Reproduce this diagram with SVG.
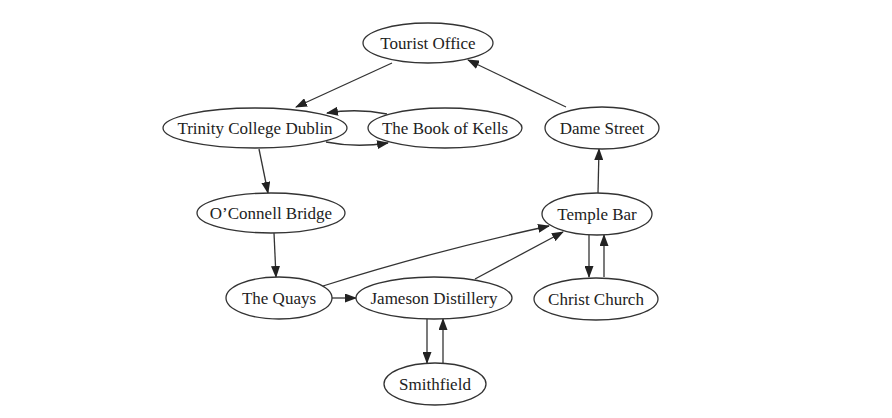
<svg xmlns="http://www.w3.org/2000/svg" width="892" height="418" viewBox="0 0 892 418">
<style>
.n ellipse{fill:#fff;stroke:#333;stroke-width:1.3}
.n text{font-family:"Liberation Serif","Times New Roman",serif;font-size:17px;fill:#222;text-anchor:middle;dominant-baseline:central}
.e path{fill:none;stroke:#333;stroke-width:1.3}
</style>
<defs>
<marker id="a" markerWidth="12" markerHeight="9" refX="11" refY="4.5" orient="auto" markerUnits="userSpaceOnUse">
<path d="M0,0 L12,4.5 L0,9 Z" fill="#222"/>
</marker>
</defs>
<rect width="892" height="418" fill="#fff"/>
<g class="e">
<path d="M392,63 L296,107" marker-end="url(#a)"/>
<path d="M566,107 L468,60" marker-end="url(#a)"/>
<path d="M326,142 Q356,148 388,143" marker-end="url(#a)"/>
<path d="M387,114 Q357,108 327,113" marker-end="url(#a)"/>
<path d="M259,149 L268,193" marker-end="url(#a)"/>
<path d="M274,233 L276,277" marker-end="url(#a)"/>
<path d="M332,298 L356,298" marker-end="url(#a)"/>
<path d="M323,286 Q430,252 549,226" marker-end="url(#a)"/>
<path d="M475,279 L563,232" marker-end="url(#a)"/>
<path d="M589,235 L589,277" marker-end="url(#a)"/>
<path d="M604,277 L604,235" marker-end="url(#a)"/>
<path d="M598,193 L599,149" marker-end="url(#a)"/>
<path d="M427,319 L427,363" marker-end="url(#a)"/>
<path d="M443,363 L443,319" marker-end="url(#a)"/>
</g>
<g class="n" id="tourist"><ellipse cx="428" cy="43" rx="65" ry="20"/><text x="428" y="43">Tourist Office</text></g>
<g class="n" id="trinity"><ellipse cx="255" cy="128" rx="92" ry="20"/><text x="255" y="128">Trinity College Dublin</text></g>
<g class="n" id="kells"><ellipse cx="445" cy="128" rx="77" ry="20"/><text x="445" y="128">The Book of Kells</text></g>
<g class="n" id="dame"><ellipse cx="602" cy="128" rx="57" ry="21"/><text x="602" y="128">Dame Street</text></g>
<g class="n" id="oconnell"><ellipse cx="271" cy="213" rx="74" ry="20"/><text x="271" y="213">O’Connell Bridge</text></g>
<g class="n" id="temple"><ellipse cx="597" cy="214" rx="55" ry="21"/><text x="597" y="214">Temple Bar</text></g>
<g class="n" id="quays"><ellipse cx="279" cy="298" rx="53" ry="21"/><text x="279" y="298">The Quays</text></g>
<g class="n" id="jameson"><ellipse cx="434" cy="298" rx="78" ry="21"/><text x="434" y="298">Jameson Distillery</text></g>
<g class="n" id="christ"><ellipse cx="596" cy="299" rx="62" ry="21"/><text x="596" y="299">Christ Church</text></g>
<g class="n" id="smithfield"><ellipse cx="435" cy="384" rx="51" ry="21"/><text x="435" y="384">Smithfield</text></g>
</svg>
